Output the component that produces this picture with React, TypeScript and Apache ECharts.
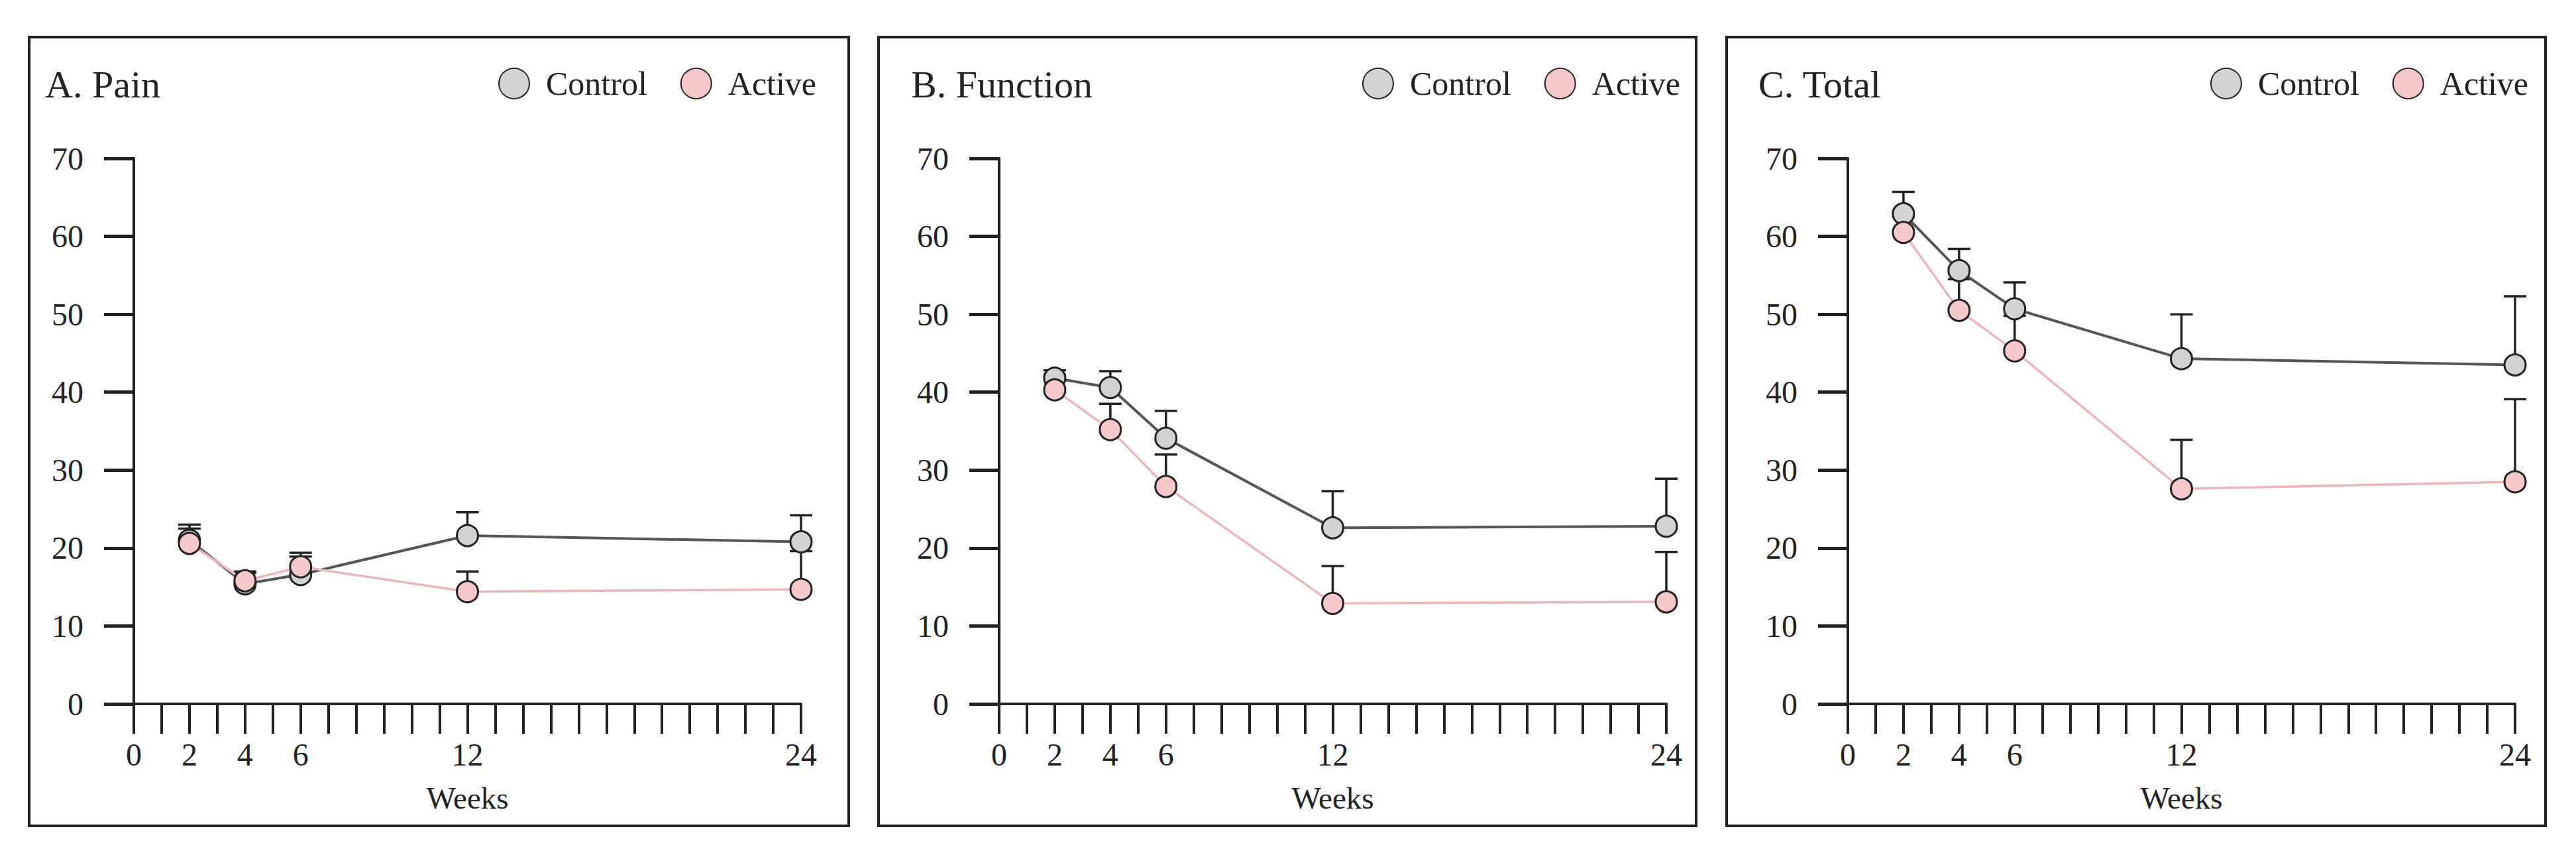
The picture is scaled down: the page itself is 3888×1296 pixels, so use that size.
import React, { useEffect, useRef } from "react";
import * as echarts from "echarts";

// ---- data ----
const weeks = [2, 4, 6, 12, 24];
const xLabelWeeks = [0, 2, 4, 6, 12, 24];
const panelTitles = ["A. Pain", "B. Function", "C. Total"];
const seriesNames = ["Control", "Active"];

const painControl = [21.0, 15.4, 16.6, 21.6, 20.8];
const painControlUpper = [23.0, 17.0, 19.4, 24.6, 24.2];
const painActive = [20.6, 15.8, 17.6, 14.4, 14.7];
const painActiveUpper = [22.5, 16.8, 18.9, 17.0, 19.6];

const functionControl = [41.8, 40.6, 34.1, 22.6, 22.8];
const functionControlUpper = [42.8, 42.7, 37.6, 27.3, 28.9];
const functionActive = [40.3, 35.2, 27.9, 12.9, 13.1];
const functionActiveUpper = [42.2, 38.5, 32.0, 17.7, 19.5];

const totalControl = [62.9, 55.6, 50.7, 44.3, 43.5];
const totalControlUpper = [65.7, 58.4, 54.1, 50.0, 52.3];
const totalActive = [60.5, 50.5, 45.3, 27.6, 28.5];
const totalActiveUpper = [62.5, 54.5, 49.8, 33.9, 39.1];

const controlValues = [painControl, functionControl, totalControl];
const controlUppers = [painControlUpper, functionControlUpper, totalControlUpper];
const activeValues = [painActive, functionActive, totalActive];
const activeUppers = [painActiveUpper, functionActiveUpper, totalActiveUpper];

// ---- layout ----
const FONT = "'Liberation Serif', 'Times New Roman', serif";
const INK = "#222222";
const frames = [
  { x: 44, w: 1237 },
  { x: 1326, w: 1234 },
  { x: 2606, w: 1236 },
];
const gridLefts = [202, 1508, 2789];
const titleLefts = [68, 1375, 2654];
const legendLefts = [752, 2056, 3336];
const GRID_TOP = 239;
const GRID_H = 823;
const GRID_W = 1007;

const CONTROL_FILL = "#d2d2d2";
const CONTROL_LINE = "#555555";
const ACTIVE_FILL = "#f6c8ca";
const ACTIVE_LINE = "#eeb4bb";

function errorRender(params: any, api: any) {
  const x = api.value(0);
  const y = api.value(1);
  const up = api.value(2);
  const p0 = api.coord([x, y]);
  const p1 = api.coord([x, up]);
  const st = { stroke: INK, lineWidth: 3.5 };
  return {
    type: "group",
    children: [
      { type: "line", shape: { x1: p0[0], y1: p0[1], x2: p1[0], y2: p1[1] }, style: st },
      { type: "line", shape: { x1: p1[0] - 17, y1: p1[1], x2: p1[0] + 17, y2: p1[1] }, style: st },
    ],
  };
}

export default function App() {
  const ref = useRef<HTMLDivElement>(null);
  useEffect(() => {
    document.body.style.margin = "0";
    const chart = echarts.init(ref.current!, null, { renderer: "svg" });

    const grid: any[] = [];
    const xAxis: any[] = [];
    const yAxis: any[] = [];
    const title: any[] = [];
    const legend: any[] = [];
    const series: any[] = [];
    const graphic: any[] = [];

    for (let p = 0; p < 3; p++) {
      grid.push({ left: gridLefts[p], top: GRID_TOP, width: GRID_W, height: GRID_H });
      xAxis.push({
        type: "value",
        gridIndex: p,
        min: 0,
        max: 24,
        interval: 1,
        name: "Weeks",
        nameLocation: "middle",
        nameGap: 118,
        nameTextStyle: { fontFamily: FONT, fontSize: 47, color: INK },
        axisLine: { show: true, lineStyle: { color: INK, width: 4 } },
        axisTick: { show: true, length: 45, lineStyle: { color: INK, width: 4 } },
        axisLabel: {
          margin: 52,
          fontFamily: FONT,
          fontSize: 48,
          color: INK,
          formatter: (v: number) => (xLabelWeeks.includes(v) ? String(v) : ""),
        },
        splitLine: { show: false },
      });
      yAxis.push({
        type: "value",
        gridIndex: p,
        min: 0,
        max: 70,
        interval: 10,
        axisLine: { show: true, lineStyle: { color: INK, width: 4 } },
        axisTick: { show: true, length: 45, lineStyle: { color: INK, width: 5 } },
        axisLabel: { margin: 76, fontFamily: FONT, fontSize: 48, color: INK },
        splitLine: { show: false },
      });
      title.push({
        text: panelTitles[p],
        left: titleLefts[p],
        top: 98,
        padding: 0,
        textStyle: { fontFamily: FONT, fontSize: 58, fontWeight: "normal", color: INK },
      });
      legend.push({
        data: seriesNames,
        left: legendLefts[p],
        top: 101,
        padding: 0,
        icon: "circle",
        itemWidth: 46,
        itemHeight: 46,
        itemGap: 50,
        selectedMode: false,
        textStyle: { fontFamily: FONT, fontSize: 50, color: INK, padding: [0, 0, 0, 20] },
      });
      graphic.push({
        type: "rect",
        shape: { x: frames[p].x, y: 56, width: frames[p].w, height: 1190 },
        style: { fill: "none", stroke: INK, lineWidth: 4 },
        z: 0,
      });

      series.push({
        type: "custom",
        name: "Control error",
        xAxisIndex: p,
        yAxisIndex: p,
        z: 1,
        renderItem: errorRender,
        encode: { x: 0, y: [1, 2] },
        data: weeks.map((w, i) => [w, controlValues[p][i], controlUppers[p][i]]),
      });
      series.push({
        type: "custom",
        name: "Active error",
        xAxisIndex: p,
        yAxisIndex: p,
        z: 1,
        renderItem: errorRender,
        encode: { x: 0, y: [1, 2] },
        data: weeks.map((w, i) => [w, activeValues[p][i], activeUppers[p][i]]),
      });
      series.push({
        type: "line",
        name: "Control",
        xAxisIndex: p,
        yAxisIndex: p,
        z: 2,
        symbol: "circle",
        symbolSize: 32,
        data: weeks.map((w, i) => [w, controlValues[p][i]]),
        lineStyle: { color: CONTROL_LINE, width: 4 },
        itemStyle: { color: CONTROL_FILL, borderColor: INK, borderWidth: 3 },
      });
      series.push({
        type: "line",
        name: "Active",
        xAxisIndex: p,
        yAxisIndex: p,
        z: 3,
        symbol: "circle",
        symbolSize: 32,
        data: weeks.map((w, i) => [w, activeValues[p][i]]),
        lineStyle: { color: ACTIVE_LINE, width: 3.5 },
        itemStyle: { color: ACTIVE_FILL, borderColor: INK, borderWidth: 3 },
      });
    }

    chart.setOption({
      animation: false,
      backgroundColor: "#ffffff",
      textStyle: { fontFamily: FONT },
      grid,
      xAxis,
      yAxis,
      title,
      legend,
      series,
      graphic,
    });
    return () => chart.dispose();
  }, []);
  return <div ref={ref} style={{ width: 3888, height: 1296 }} />;
}
